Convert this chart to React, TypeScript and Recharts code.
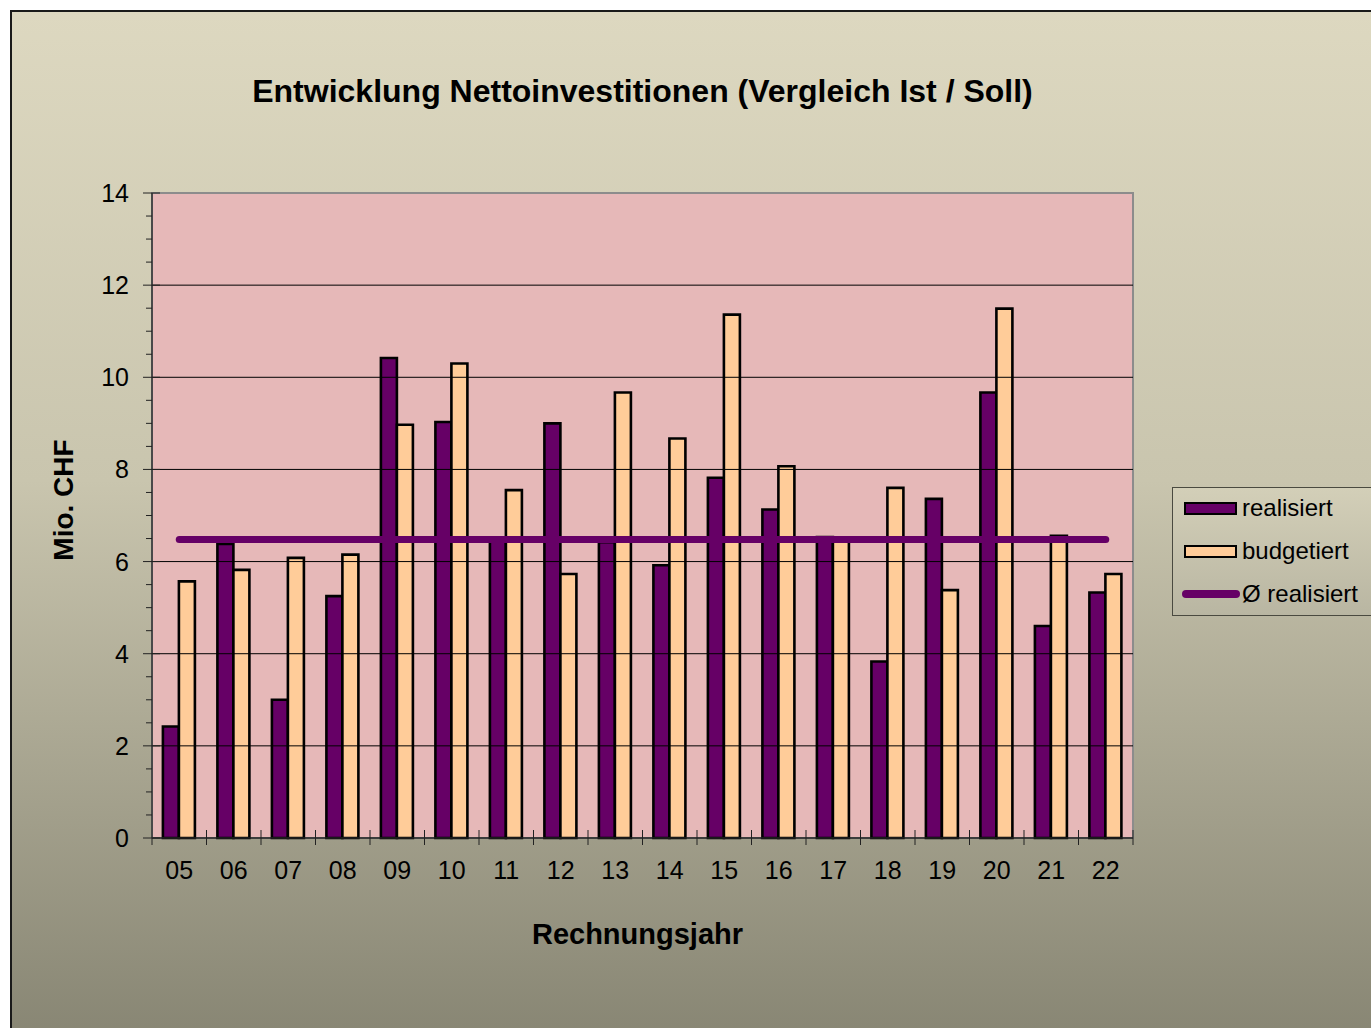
import {
  ComposedChart,
  Bar,
  Line,
  XAxis,
  YAxis,
  ReferenceArea,
  ReferenceLine,
  Legend,
} from "recharts";

const years = ["05", "06", "07", "08", "09", "10", "11", "12", "13", "14", "15", "16", "17", "18", "19", "20", "21", "22"];
const realisiert = [2.42, 6.38, 3.0, 5.25, 10.42, 9.03, 6.45, 9.0, 6.42, 5.92, 7.82, 7.13, 6.53, 3.83, 7.36, 9.67, 4.6, 5.33];
const budgetiert = [5.57, 5.82, 6.08, 6.15, 8.97, 10.3, 7.55, 5.73, 9.67, 8.67, 11.36, 8.07, 6.5, 7.6, 5.38, 11.49, 6.56, 5.73];
const avgRealisiert = 6.48;

const yTicks = [0, 0.5, 1, 1.5, 2, 2.5, 3, 3.5, 4, 4.5, 5, 5.5, 6, 6.5, 7, 7.5, 8, 8.5, 9, 9.5, 10, 10.5, 11, 11.5, 12, 12.5, 13, 13.5, 14];
const gridValues = [2, 4, 6, 8, 10, 12];

const legendItems = [
  { label: "realisiert", kind: "bar", color: "#660066" },
  { label: "budgetiert", kind: "bar", color: "#ffcc99" },
  { label: "Ø realisiert", kind: "line", color: "#660066" },
];

const data = years.map((year, i) => ({
  year,
  realisiert: realisiert[i],
  budgetiert: budgetiert[i],
  avg: avgRealisiert,
}));

const W = 1371;
const H = 1028;
const PLOT_LEFT = 152;
const PLOT_RIGHT = 1133;
const PLOT_TOP = 193;
const PLOT_BOTTOM = 838;
const BAND = (PLOT_RIGHT - PLOT_LEFT) / years.length;
const FONT = "'Liberation Sans', Arial, sans-serif";

function YTick(props: any) {
  const { x, y, payload } = props;
  const v = payload.value as number;
  const major = v % 2 === 0;
  return (
    <g>
      <line x1={major ? x - 9 : x - 6} x2={major ? x + 8 : x} y1={y} y2={y} stroke="#222" strokeWidth={1} />
      {major && (
        <text x={x - 23} y={y} dy="0.36em" textAnchor="end" fontSize={25} fontFamily={FONT} fill="#000">
          {v}
        </text>
      )}
    </g>
  );
}

function XTick(props: any) {
  const { x, y, payload, index } = props;
  const left = x - BAND / 2;
  const right = x + BAND / 2;
  return (
    <g>
      <line x1={left} x2={left} y1={index === 0 ? y : y - 8} y2={y + 7} stroke="#222" strokeWidth={1} />
      {index === years.length - 1 && (
        <line x1={right} x2={right} y1={y - 8} y2={y + 7} stroke="#222" strokeWidth={1} />
      )}
      <text x={x} y={y + 41} textAnchor="middle" fontSize={25} fontFamily={FONT} fill="#000">
        {payload.value}
      </text>
    </g>
  );
}

function LegendBox() {
  return (
    <div
      style={{
        width: 210,
        height: 127,
        border: "1px solid #4a4a40",
        background: "linear-gradient(#d3cfb8, #b9b6a2)",
        position: "relative",
        fontFamily: FONT,
        fontSize: 24,
        color: "#000",
      }}
    >
      {legendItems.map((item, i) => (
        <div key={item.label} style={{ position: "absolute", left: 0, top: 6 + i * 43, height: 30, width: 210 }}>
          {item.kind === "bar" ? (
            <div
              style={{
                position: "absolute",
                left: 11,
                top: 8,
                width: 49,
                height: 9,
                background: item.color,
                border: "2px solid #000",
              }}
            />
          ) : (
            <div
              style={{
                position: "absolute",
                left: 9,
                top: 10,
                width: 58,
                height: 8,
                borderRadius: 4,
                background: item.color,
              }}
            />
          )}
          <span style={{ position: "absolute", left: 69, top: 0, lineHeight: "28px", whiteSpace: "nowrap" }}>
            {item.label}
          </span>
        </div>
      ))}
    </div>
  );
}

export default function App() {
  return (
    <div style={{ position: "absolute", left: 0, top: 0, width: W, height: H, overflow: "hidden", background: "#fff" }}>
      <div
        style={{
          position: "absolute",
          left: 10,
          top: 10,
          width: 1400,
          height: 1040,
          border: "2px solid #1a1a1a",
          background: "linear-gradient(#ddd8c0 0%, #c9c5ae 45%, #868472 100%)",
        }}
      />
      <div
        style={{
          position: "absolute",
          left: PLOT_LEFT,
          width: PLOT_RIGHT - PLOT_LEFT,
          top: 73,
          textAlign: "center",
          fontFamily: FONT,
          fontWeight: "bold",
          fontSize: 32,
          whiteSpace: "nowrap",
        }}
      >
        Entwicklung Nettoinvestitionen (Vergleich Ist / Soll)
      </div>
      <div
        style={{
          position: "absolute",
          left: PLOT_LEFT - 5,
          width: PLOT_RIGHT - PLOT_LEFT,
          top: 918,
          textAlign: "center",
          fontFamily: FONT,
          fontWeight: "bold",
          fontSize: 29,
        }}
      >
        Rechnungsjahr
      </div>
      <div
        style={{
          position: "absolute",
          left: 64 - 100,
          top: 500 - 18,
          width: 200,
          height: 36,
          lineHeight: "36px",
          textAlign: "center",
          transform: "rotate(-90deg)",
          fontFamily: FONT,
          fontWeight: "bold",
          fontSize: 28,
        }}
      >
        Mio. CHF
      </div>
      <div style={{ position: "absolute", left: 0, top: 0 }}>
        <ComposedChart
          width={W}
          height={H}
          data={data}
          margin={{ top: PLOT_TOP, right: W - PLOT_RIGHT, bottom: 0, left: 0 }}
          barCategoryGap="20%"
          barGap={0}
        >
          <ReferenceArea y1={0} y2={14} fill="#e6b8b8" fillOpacity={1} stroke="#8c8c8c" strokeWidth={2} />
          {gridValues.map((v) => (
            <ReferenceLine key={v} y={v} stroke="#000" strokeWidth={1} />
          ))}
          <XAxis
            dataKey="year"
            height={H - PLOT_BOTTOM}
            interval={0}
            tickSize={0}
            tickMargin={0}
            tickLine={false}
            axisLine={{ stroke: "#222", strokeWidth: 1.5 }}
            tick={<XTick />}
          />
          <YAxis
            width={PLOT_LEFT}
            domain={[0, 14]}
            ticks={yTicks}
            interval={0}
            tickSize={0}
            tickMargin={0}
            tickLine={false}
            axisLine={{ stroke: "#333", strokeWidth: 1.5 }}
            tick={<YTick />}
          />
          <Bar dataKey="realisiert" fill="#660066" stroke="#000" strokeWidth={2.6} isAnimationActive={false} />
          <Bar dataKey="budgetiert" fill="#ffcc99" stroke="#000" strokeWidth={2.6} isAnimationActive={false} />
          <Line
            dataKey="avg"
            stroke="#660066"
            strokeWidth={7}
            strokeLinecap="round"
            dot={false}
            activeDot={false}
            isAnimationActive={false}
          />
          <Legend
            layout="vertical"
            align="center"
            verticalAlign="middle"
            content={() => <LegendBox />}
            wrapperStyle={{ position: "absolute", left: 1172, top: 487, width: 212, height: 129 }}
          />
        </ComposedChart>
      </div>
    </div>
  );
}
